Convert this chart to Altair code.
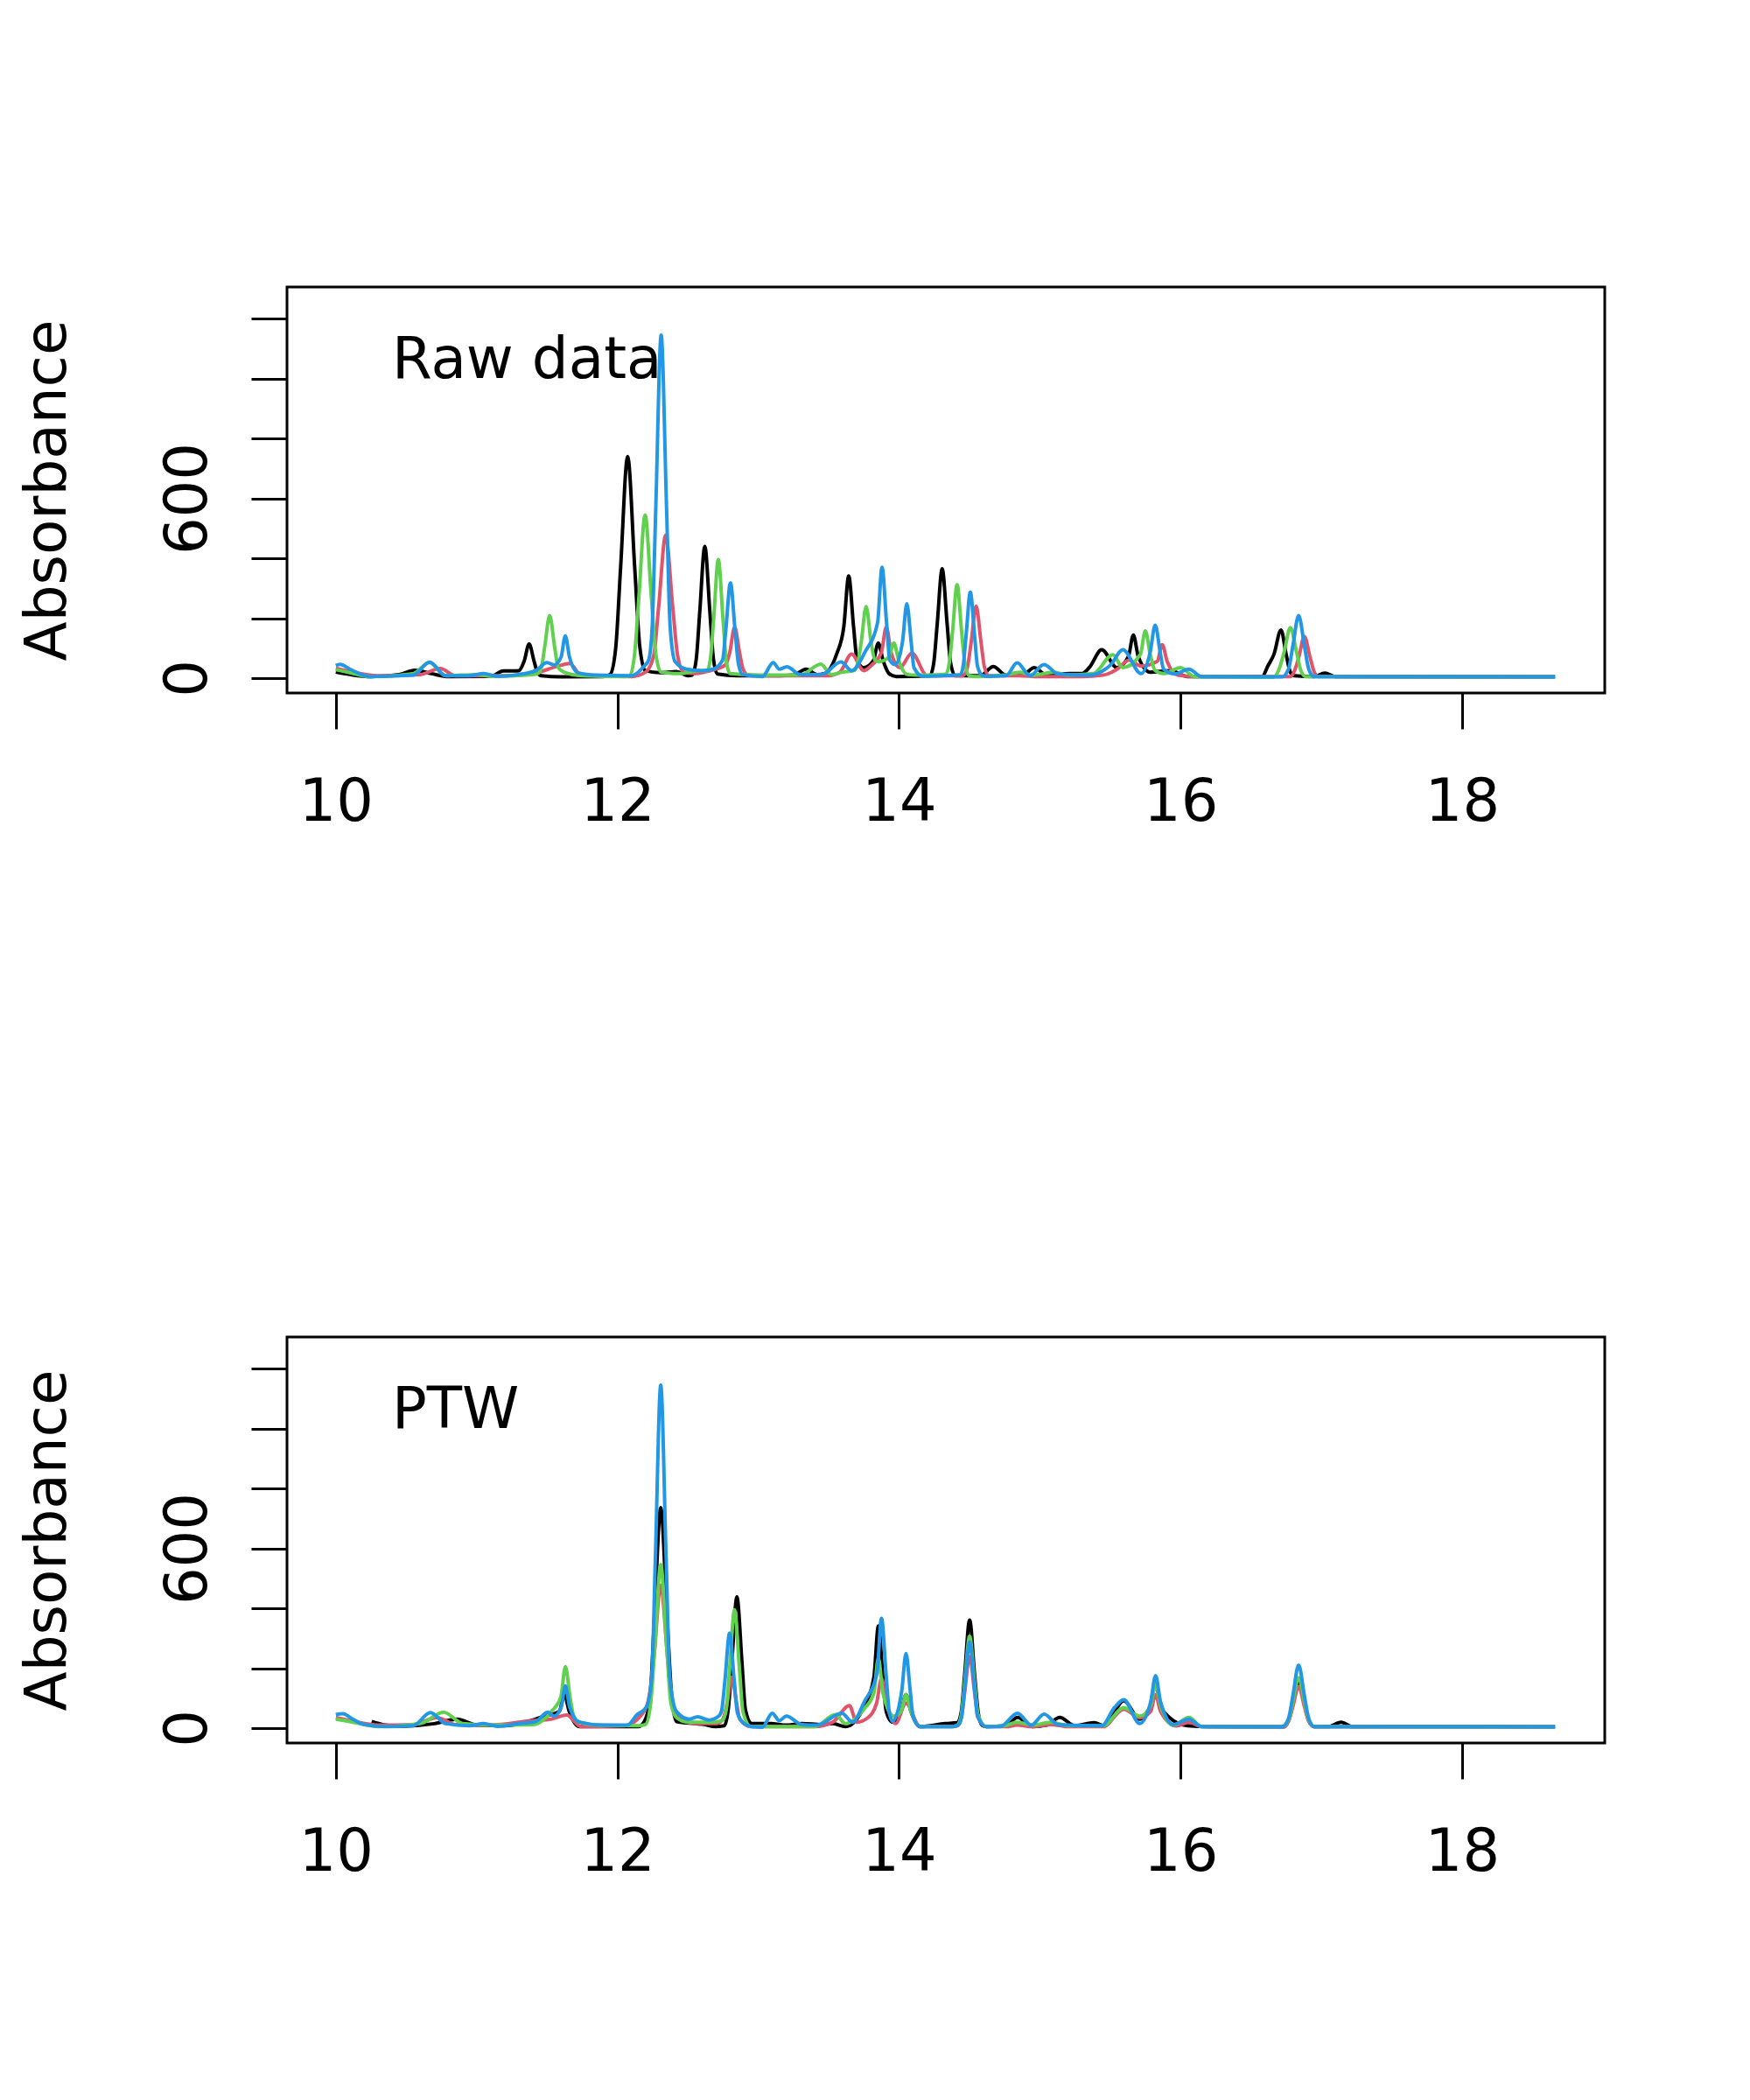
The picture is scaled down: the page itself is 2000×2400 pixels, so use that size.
import altair as alt
import pandas as pd

SAMPLES = ["1", "2", "3", "4"]
COLORS = ["#000000", "#DF536B", "#61D04F", "#2297E6"]
X_TICKS = [10, 12, 14, 16, 18]
Y_TICKS = [0, 200, 400, 600, 800, 1000, 1200]
PANEL_LABELS = ["Raw data", "PTW"]

# ---------------- Raw data (time, absorbance) ----------------
raw_black = [(10.00,20),(10.10,12),(10.25,5),(10.45,12),(10.56,26),(10.68,15),(10.80,5),(11.10,6),
    (11.19,24),(11.27,24),(11.30,25),(11.338,57),(11.373,114),(11.408,57),(11.433,18),(11.46,8),
    (11.60,4),(11.90,5),(11.948,12),(11.988,100),(12.023,370),(12.073,740),(12.123,370),
    (12.158,110),(12.198,25),(12.30,18),(12.42,22),(12.50,8),(12.531,10),(12.56,62),(12.585,220),
    (12.621,440),(12.657,220),(12.682,65),(12.71,14),(12.85,8),(13.15,8),(13.25,10),(13.34,30),
    (13.42,12),(13.47,15),(13.557,80),(13.608,170),(13.643,341),(13.678,170),(13.703,60),
    (13.75,35),(13.818,58),(13.853,117),(13.888,58),(13.93,15),(13.98,5),(14.22,8),(14.247,50),
    (14.272,182),(14.307,365),(14.342,182),(14.367,50),(14.40,8),(14.58,8),(14.67,39),(14.76,10),
    (14.88,10),(14.96,35),(15.05,10),(15.216,15),(15.30,15),(15.355,37),(15.44,95),(15.548,35),
    (15.63,72),(15.665,144),(15.70,72),(15.784,20),(15.93,25),(16.05,5),(16.58,5),(16.62,40),
    (16.664,80),(16.714,161),(16.75,80),(16.78,20),(16.81,8),(16.95,5),(17.025,17),(17.10,5),
    (18.66,4)]
raw_red = [(10.00,33),(10.10,22),(10.30,8),(10.60,12),(10.742,32),(10.85,8),(11.20,8),(11.40,15),
    (11.57,39),(11.662,49),(11.74,10),(12.10,5),(12.20,20),(12.258,75),(12.293,238),(12.343,477),
    (12.393,238),(12.428,75),(12.47,20),(12.55,15),(12.62,20),(12.70,30),(12.77,45),(12.798,85),
    (12.833,170),(12.868,85),(12.893,30),(12.93,10),(13.10,8),(13.50,8),(13.58,20),(13.664,80),
    (13.75,25),(13.81,45),(13.875,85),(13.91,170),(13.945,85),(14.006,35),(14.092,83),(14.20,8),
    (14.44,8),(14.46,10),(14.488,40),(14.513,120),(14.548,240),(14.583,120),(14.608,35),
    (14.64,8),(14.85,8),(15.00,5),(15.30,5),(15.45,10),(15.55,30),(15.634,60),(15.72,40),
    (15.835,56),(15.87,112),(15.905,56),(15.98,10),(16.10,5),(16.78,5),(16.81,25),(16.84,70),
    (16.88,139),(16.92,70),(16.95,20),(16.98,5),(18.66,4)]
raw_green = [(10.00,28),(10.10,18),(10.25,5),(10.55,15),(10.666,52),(10.78,8),(11.00,12),(11.10,6),
    (11.40,12),(11.43,14),(11.46,35),(11.484,105),(11.519,209),(11.554,105),(11.58,35),(11.62,20),
    (11.75,8),(12.05,5),(12.087,7),(12.122,78),(12.153,272),(12.197,545),(12.241,272),
    (12.272,85),(12.31,20),(12.45,15),(12.572,25),(12.637,25),(12.661,65),(12.684,198),
    (12.717,396),(12.75,198),(12.773,60),(12.80,15),(13.00,10),(13.30,10),(13.445,47),(13.52,12),
    (13.60,20),(13.68,25),(13.707,50),(13.732,120),(13.767,239),(13.802,120),(13.83,60),
    (13.857,55),(13.929,70),(13.964,117),(13.999,58),(14.06,12),(14.12,10),(14.30,12),
    (14.335,14),(14.358,52),(14.381,156),(14.413,312),(14.445,156),(14.468,50),(14.50,8),
    (14.54,5),(14.75,10),(14.86,20),(14.95,10),(15.10,20),(15.20,10),(15.38,15),(15.52,78),
    (15.59,35),(15.715,79),(15.75,158),(15.785,79),(15.82,25),(15.88,15),(16.00,35),(16.10,5),
    (16.66,3),(16.70,30),(16.735,85),(16.78,169),(16.825,85),(16.855,25),(16.89,5),(18.66,4)]
raw_blue = [(10.00,42),(10.03,46),(10.10,30),(10.24,5),(10.55,10),(10.666,53),(10.78,8),(10.95,8),
    (11.05,15),(11.15,6),(11.30,12),(11.42,25),(11.50,52),(11.55,44),(11.60,70),(11.63,141),
    (11.66,70),(11.72,18),(11.85,10),(12.10,8),(12.19,40),(12.222,60),(12.247,170),(12.273,572),
    (12.311,1145),(12.349,572),(12.375,170),(12.41,55),(12.49,30),(12.60,25),(12.68,30),
    (12.747,60),(12.77,159),(12.803,318),(12.836,159),(12.859,50),(12.89,12),(13.03,5),
    (13.107,52),(13.15,30),(13.204,38),(13.30,12),(13.45,12),(13.589,54),(13.664,25),(13.76,88),
    (13.848,185),(13.88,370),(13.912,185),(13.935,60),(13.975,45),(14.026,124),(14.056,248),
    (14.086,124),(14.107,35),(14.17,6),(14.40,10),(14.437,12),(14.456,40),(14.477,143),
    (14.507,287),(14.537,143),(14.558,40),(14.59,10),(14.62,6),(14.76,8),(14.84,51),(14.93,8),
    (15.03,45),(15.13,14),(15.35,10),(15.505,45),(15.59,95),(15.72,15),(15.785,88),(15.82,177),
    (15.855,88),(15.88,30),(15.96,14),(16.06,30),(16.15,5),(16.72,4),(16.767,30),(16.797,105),
    (16.839,209),(16.881,105),(16.911,30),(16.95,5),(17.90,5),(18.66,4)]

# ---------------- PTW-aligned data ----------------
ptw_black = [(10.255,22),(10.35,10),(10.45,6),(10.70,15),(10.862,30),(11.00,10),(11.20,8),
    (11.35,20),(11.48,40),(11.588,56),(11.623,112),(11.658,56),(11.73,5),(12.15,5),(12.195,25),
    (12.232,100),(12.263,368),(12.308,736),(12.353,368),(12.385,110),(12.42,22),(12.55,15),
    (12.62,12),(12.694,5),(12.759,8),(12.788,65),(12.813,219),(12.849,438),(12.885,219),
    (12.91,60),(12.955,15),(13.09,15),(13.20,10),(13.31,15),(13.45,12),(13.53,15),(13.62,5),
    (13.754,73),(13.822,170),(13.854,341),(13.886,170),(13.91,55),(13.954,20),(14.015,56),
    (14.05,112),(14.085,56),(14.15,5),(14.33,15),(14.415,18),(14.443,55),(14.467,180),
    (14.502,361),(14.537,180),(14.562,55),(14.59,10),(14.62,5),(14.76,8),(14.842,36),(14.95,5),
    (15.05,10),(15.142,36),(15.25,8),(15.386,18),(15.46,8),(15.597,91),(15.71,30),(15.788,75),
    (15.823,151),(15.858,75),(15.92,36),(16.05,8),(16.20,5),(16.72,4),(16.767,25),(16.797,78),
    (16.839,156),(16.881,78),(16.911,25),(16.95,5),(17.05,5),(17.14,20),(17.22,5),(18.66,4)]
ptw_red = [(10.00,35),(10.10,25),(10.30,10),(10.55,12),(10.72,35),(10.85,12),(11.10,10),(11.39,25),
    (11.53,30),(11.64,44),(11.74,5),(12.05,8),(12.195,60),(12.227,110),(12.26,238),(12.308,477),
    (12.356,238),(12.39,80),(12.44,40),(12.55,15),(12.70,15),(12.75,30),(12.78,85),(12.813,170),
    (12.846,85),(12.87,30),(12.95,5),(13.10,5),(13.40,5),(13.53,20),(13.648,75),(13.70,20),
    (13.78,35),(13.841,83),(13.876,166),(13.911,83),(13.976,15),(14.05,83),(14.15,5),(14.38,5),
    (14.415,8),(14.443,35),(14.467,120),(14.502,239),(14.537,120),(14.562,35),(14.62,5),
    (14.76,5),(14.84,10),(14.95,5),(15.08,12),(15.20,5),(15.45,5),(15.597,63),(15.71,35),
    (15.788,56),(15.823,112),(15.858,56),(15.97,7),(16.06,20),(16.15,5),(16.73,3),(16.767,22),
    (16.797,70),(16.839,139),(16.881,70),(16.911,22),(16.95,4),(18.66,4)]
ptw_green = [(10.00,30),(10.10,22),(10.30,5),(10.60,15),(10.767,53),(10.90,15),(11.10,10),
    (11.40,12),(11.53,55),(11.598,103),(11.631,205),(11.664,103),(11.69,40),(11.73,20),
    (11.85,10),(12.15,8),(12.20,12),(12.236,80),(12.266,273),(12.308,546),(12.35,273),
    (12.38,85),(12.42,35),(12.50,20),(12.68,20),(12.745,25),(12.773,60),(12.797,198),
    (12.832,395),(12.867,198),(12.892,55),(12.95,5),(13.10,5),(13.40,5),(13.55,45),(13.62,15),
    (13.754,65),(13.822,117),(13.854,234),(13.886,117),(13.965,40),(14.015,56),(14.05,112),
    (14.085,56),(14.15,5),(14.38,5),(14.415,10),(14.443,45),(14.467,154),(14.502,307),
    (14.537,154),(14.562,45),(14.62,5),(14.75,8),(14.84,20),(14.95,10),(15.08,20),(15.20,8),
    (15.45,8),(15.597,68),(15.71,40),(15.788,75),(15.823,150),(15.858,75),(15.95,10),(16.06,36),
    (16.15,5),(16.72,4),(16.767,27),(16.797,85),(16.839,169),(16.881,85),(16.911,27),(16.95,5),
    (18.66,4)]
ptw_blue = [(10.00,45),(10.05,48),(10.12,30),(10.20,12),(10.35,5),(10.55,8),(10.672,52),(10.78,15),
    (10.95,8),(11.05,15),(11.15,6),(11.30,15),(11.42,22),(11.505,53),(11.55,40),(11.601,70),
    (11.631,141),(11.661,70),(11.73,20),(11.90,10),(12.07,10),(12.14,45),(12.206,70),
    (12.244,170),(12.27,572),(12.308,1145),(12.346,572),(12.372,170),(12.42,55),(12.51,30),
    (12.57,38),(12.65,27),(12.72,40),(12.741,60),(12.764,159),(12.797,317),(12.83,159),
    (12.853,50),(12.90,15),(12.955,5),(13.03,3),(13.10,50),(13.15,25),(13.20,40),(13.31,12),
    (13.42,10),(13.594,50),(13.67,20),(13.754,88),(13.844,184),(13.876,367),(13.908,184),
    (13.931,55),(13.954,23),(14.02,125),(14.05,249),(14.08,125),(14.10,40),(14.15,5),(14.38,5),
    (14.42,10),(14.446,40),(14.469,144),(14.502,287),(14.535,144),(14.558,40),(14.62,5),
    (14.72,5),(14.842,50),(14.94,10),(15.031,47),(15.13,12),(15.44,8),(15.53,68),(15.597,95),
    (15.71,15),(15.788,88),(15.823,175),(15.858,88),(15.95,12),(16.06,30),(16.15,5),(16.72,4),
    (16.767,32),(16.797,105),(16.839,210),(16.881,105),(16.911,32),(16.95,5),(17.93,5),(18.66,4)]

FONT = "DejaVu Sans"


def to_frame(series_list):
    rows = []
    for name, pts in zip(SAMPLES, series_list):
        for i, (t, a) in enumerate(pts):
            rows.append({"time": t, "abs": a, "sample": name, "idx": i})
    return pd.DataFrame(rows)


def panel(series_list, label):
    df = to_frame(series_list)
    lines = alt.Chart(df).mark_line(interpolate="monotone", strokeWidth=4).encode(
        x=alt.X("time:Q",
                scale=alt.Scale(domain=[9.6533, 19.0133], nice=False, zero=False),
                axis=alt.Axis(values=X_TICKS, format="d", title=None, grid=False, domain=False,
                              tickSize=41, tickWidth=3, tickColor="black",
                              labelFont=FONT, labelFontSize=67, labelColor="black",
                              labelBaseline="alphabetic", labelAlign="center",
                              labelPadding=104, labelFlush=False, labelOverlap=False)),
        y=alt.Y("abs:Q",
                scale=alt.Scale(domain=[-49.7, 1306], nice=False, zero=False),
                axis=alt.Axis(values=Y_TICKS, title="Absorbance", grid=False, domain=False,
                              tickSize=41, tickWidth=3, tickColor="black",
                              labelExpr="(datum.value == 0 || datum.value == 600) ? datum.label : ''",
                              labelFont=FONT, labelFontSize=67, labelColor="black",
                              labelAngle=270, labelAlign="center", labelBaseline="alphabetic",
                              labelPadding=52, labelFlush=False, labelOverlap=False,
                              titleFont=FONT, titleFontSize=66, titleFontWeight="normal",
                              titleColor="black", titleAngle=270, titleAlign="center",
                              titleBaseline="alphabetic", titleX=-254, titleY=232)),
        color=alt.Color("sample:N", scale=alt.Scale(domain=SAMPLES, range=COLORS), legend=None),
        order=alt.Order("idx:Q"),
    )
    text = alt.Chart(pd.DataFrame({"label": [label]})).mark_text(
        align="left", baseline="alphabetic", font=FONT, fontSize=66, color="black"
    ).encode(x=alt.value(120), y=alt.value(104), text="label:N")
    return alt.layer(lines, text).properties(width=1506, height=464)


top = panel([raw_black, raw_red, raw_green, raw_blue], PANEL_LABELS[0])
bottom = panel([ptw_black, ptw_red, ptw_green, ptw_blue], PANEL_LABELS[1])

chart = alt.vconcat(top, bottom, spacing=736, bounds="flush").properties(
    padding={"left": 11, "top": 318, "right": 100, "bottom": 300},
    background="white",
).configure_view(stroke="black", strokeWidth=3)

chart.save("out.html", embed_options={"renderer": "svg", "actions": False})
